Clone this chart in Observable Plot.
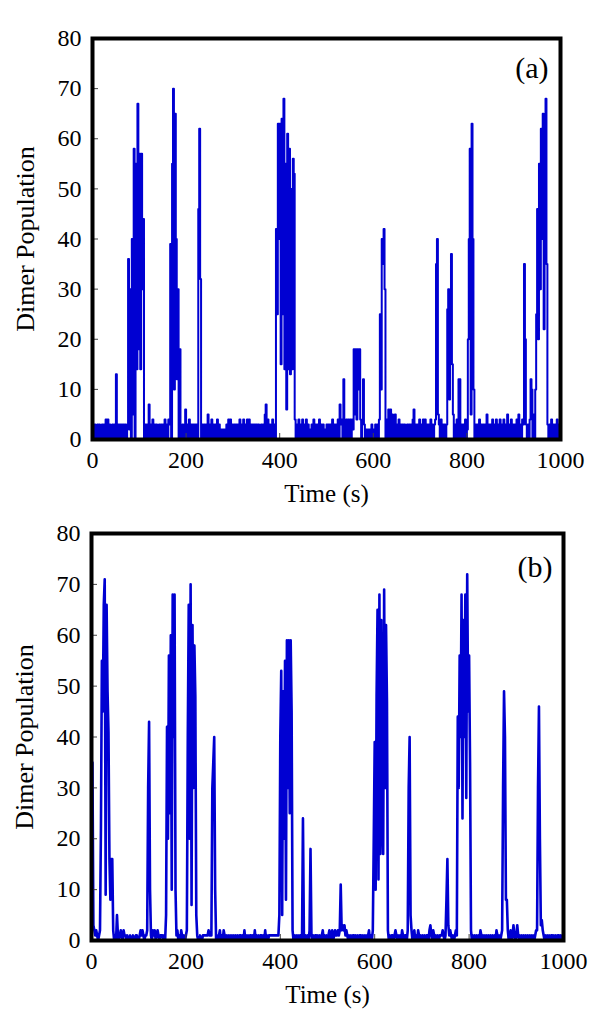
<!DOCTYPE html>
<html>
<head>
<meta charset="utf-8">
<script src="https://cdn.jsdelivr.net/npm/d3@7"></script>
<script src="https://cdn.jsdelivr.net/npm/@observablehq/plot@0.6"></script>
<style>
  html, body { margin: 0; padding: 0; background: white; }
  #chart { width: 600px; }
  #chart svg { display: block; }
  #chart svg, #chart svg text { font-family: "Liberation Serif", "Times New Roman", serif !important; }
</style>
</head>
<body>
<div id="chart"></div>
<script>
// ---- data (sampled every 2 s, t = 0 … 1000) ----
const timeStep = 2;
const popA = [
  3,0,3,0,2,3,0,3,1,0,3,0,3,0,4,0,4,0,3,0,2,3,0,3,0,
  13,0,3,0,3,0,3,0,3,0,3,0,3,36,2,30,0,40,5,58,0,55,14,67,18,
  57,14,57,30,44,0,3,0,3,0,7,0,3,0,4,0,3,0,3,2,0,3,0,3,0,
  3,0,4,0,3,0,4,3,39,0,55,70,10,65,40,12,30,0,18,3,0,3,0,3,6,
  0,3,0,4,0,3,0,3,0,3,0,3,0,46,62,32,0,3,0,3,0,3,0,5,0,
  3,0,4,0,3,0,3,0,4,0,3,0,2,0,2,0,2,0,3,0,4,0,4,0,3,
  0,3,0,3,0,3,0,4,0,3,0,4,0,3,0,4,0,4,0,3,0,3,0,3,0,
  3,0,3,2,0,3,0,3,0,5,7,0,4,0,3,0,3,4,0,3,0,42,25,63,40,
  63,15,64,25,68,14,55,6,61,14,58,13,50,14,56,53,4,0,3,0,4,0,3,0,4,
  0,3,0,4,0,3,0,2,0,3,0,4,0,3,0,3,0,4,0,3,0,3,0,2,0,
  3,0,3,0,3,0,4,0,3,0,3,0,4,0,7,3,4,0,12,4,0,4,0,4,0,
  4,0,4,2,18,5,18,4,18,10,18,4,0,4,12,3,0,2,0,2,0,2,0,3,0,
  2,0,3,0,3,0,4,25,10,40,35,42,30,0,4,0,6,0,6,0,5,3,0,5,0,
  3,0,4,0,3,0,3,0,3,2,0,3,0,3,0,3,0,4,6,0,3,0,3,0,4,
  0,3,0,4,0,4,0,3,0,3,0,4,0,3,0,3,4,35,40,5,3,0,4,0,3,
  0,3,0,3,26,30,8,20,37,15,5,0,3,0,4,0,12,12,0,3,0,3,0,4,0,
  2,20,40,58,5,63,40,10,0,3,0,3,0,4,0,3,0,3,0,3,0,5,0,3,0,
  3,0,4,0,3,0,4,0,3,0,4,0,3,0,4,0,3,0,5,0,3,0,4,0,3,
  0,3,0,4,0,5,0,3,0,4,3,35,20,3,0,3,0,4,12,10,0,5,0,10,25,
  46,20,55,30,62,40,65,22,58,68,35,3,0,3,0,4,0,3,0,3,0,4,0,3,0,
  3
];
const popB = [
  30,35,3,2,1,2,1,0,1,2,22,55,45,66,71,9,66,49,41,16,8,16,16,2,0,
  1,0,5,1,0,1,2,1,0,2,1,1,0,1,0,0,1,0,0,1,0,0,1,1,0,
  0,1,2,1,2,1,0,1,1,2,30,43,10,1,0,2,1,2,0,1,2,1,0,1,1,
  1,0,1,0,5,42,20,56,25,60,10,68,40,68,10,1,2,0,1,0,2,1,0,1,0,
  1,2,40,66,20,70,7,62,30,58,48,5,1,0,0,1,0,0,1,1,1,1,1,1,2,
  1,1,1,30,35,40,10,0,1,0,1,2,0,1,0,2,1,0,1,0,1,0,1,0,1,
  0,1,0,1,0,1,0,1,1,0,1,0,2,0,1,0,1,0,1,1,0,1,0,2,0,
  1,0,1,0,1,1,0,1,0,2,0,1,0,1,1,1,1,1,1,1,1,1,1,1,5,
  40,53,5,49,20,55,8,59,30,59,25,59,45,2,0,1,0,1,0,1,0,1,1,0,24,
  1,0,1,0,1,0,2,18,1,0,1,0,1,1,0,1,0,1,0,1,2,0,1,0,1,
  0,1,2,0,1,2,0,1,2,1,1,2,1,2,11,2,3,2,3,1,2,1,0,1,0,
  1,0,1,1,0,1,0,1,0,1,1,0,1,0,1,0,1,0,1,2,0,1,0,2,20,
  39,10,48,65,12,68,17,63,25,17,69,30,62,47,2,0,1,0,1,1,0,1,2,1,0,
  1,0,1,0,2,1,0,1,1,0,2,30,40,5,2,0,1,2,0,1,0,2,1,0,1,
  0,1,0,1,0,1,1,0,2,3,1,0,2,1,0,1,0,1,0,1,1,1,2,1,0,
  1,8,16,3,1,2,1,0,1,0,1,2,1,44,30,56,40,68,24,63,40,68,28,72,45,
  56,35,2,0,1,0,1,0,1,0,1,0,2,1,0,1,0,1,0,1,0,1,0,1,0,
  1,0,1,0,2,1,0,1,0,1,2,30,49,40,8,8,2,0,1,2,0,1,3,1,0,
  1,3,1,0,1,0,1,0,1,0,1,0,1,0,1,0,1,0,1,0,1,2,2,30,46,
  20,3,4,2,1,0,1,0,1,0,1,0,1,1,0,1,0,1,0,1,1,0,1,0,1,
  0
];
const xTicks = [0, 200, 400, 600, 800, 1000];
const yTicks = [0, 10, 20, 30, 40, 50, 60, 70, 80];
const panelLabels = ["(a)", "(b)"];
const xTitle = "Time (s)";
const yTitle = "Dimer Population";

const BLUE = "#0000d2";
const SERIF = "Liberation Serif";
const rows = (arr) => arr.map((v, i) => ({t: i * timeStep, v}));

function panel(data, label, opts) {
  return Plot.plot({
    width: 600,
    height: opts.height,
    marginTop: opts.mt,
    marginBottom: opts.mb,
    marginLeft: opts.ml,
    marginRight: opts.mr,
    x: {domain: [0, 1000], label: null},
    y: {domain: [0, 80], label: null},
    style: {fontFamily: SERIF, fontSize: "24px", background: "white", color: "black"},
    marks: [
      Plot.line(data, {x: "t", y: "v", stroke: BLUE, strokeWidth: opts.sw, curve: opts.curve}),
      Plot.axisX(xTicks, {tickSize: 0, tickPadding: 11, label: null, fontSize: 24, fontFamily: SERIF, tickFormat: (d) => String(d)}),
      Plot.axisY(yTicks, {tickSize: 0, tickPadding: 11, label: null, fontSize: 24, fontFamily: SERIF, tickFormat: (d) => String(d)}),
      Plot.axisX(xTicks, {tickSize: 6, dy: -6, tickFormat: () => "", label: null, stroke: "#444"}),
      Plot.axisY(yTicks, {tickSize: 6, dx: 6, tickFormat: () => "", label: null, stroke: "#444"}),
      Plot.frame({stroke: "black", strokeWidth: 4}),
      Plot.text([label], {frameAnchor: "top-right", dx: opts.ldx, dy: opts.ldy, textAnchor: "end", lineAnchor: "middle", fontSize: 30, fontFamily: SERIF}),
      Plot.text([xTitle], {frameAnchor: "bottom", dy: 54, textAnchor: "middle", lineAnchor: "middle", fontSize: 25, fontFamily: SERIF}),
      Plot.text([yTitle], {frameAnchor: "left", dx: -67, rotate: -90, textAnchor: "middle", lineAnchor: "middle", fontSize: 26, fontFamily: SERIF})
    ]
  });
}

const chart = document.getElementById("chart");
chart.append(panel(rows(popA), panelLabels[0], {height: 510, mt: 38, mb: 71, ml: 92, mr: 40, sw: 2, curve: "step-after", ldx: -12, ldy: 30}));
chart.append(panel(rows(popB), panelLabels[1], {height: 503, mt: 23, mb: 73, ml: 91, mr: 37, sw: 2.6, curve: "linear", ldx: -11, ldy: 34}));
</script>
</body>
</html>
